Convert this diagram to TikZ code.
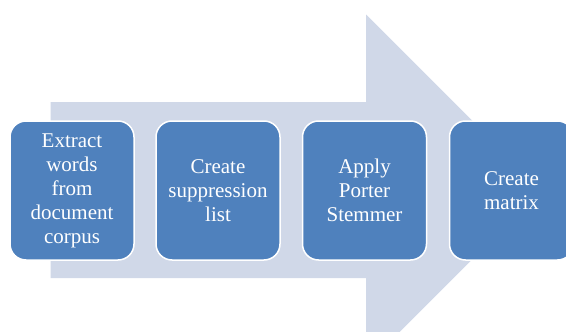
\documentclass[tikz,border=0pt]{standalone}
\usepackage{fontspec}
\setmainfont{Liberation Serif}
\definecolor{boxblue}{HTML}{4F81BD}
\definecolor{arrowgray}{HTML}{D0D8E8}
\begin{document}
\begin{tikzpicture}[x=1pt,y=-1pt,
  stepbox/.style={draw=white, line width=1.5pt, fill=boxblue, rounded corners=16pt,
    minimum width=124pt, minimum height=139pt, text=white, align=center,
    font=\fontsize{21}{24}\selectfont, inner sep=0pt, anchor=center}]
\useasboundingbox (0,0) rectangle (566,332);
\clip (0,0) rectangle (566,332);
\fill[arrowgray] (50.5,102) -- (366,102) -- (366,14.5) -- (541.5,190) -- (366,365.5) -- (366,278) -- (50.5,278) -- cycle;
\node[stepbox] (s1) at (72,190.5) {Extract\\words\\from\\document\\corpus};
\node[stepbox] (s2) at (218,190.5) {Create\\suppression\\list};
\node[stepbox] (s3) at (364.5,190.5) {Apply\\Porter\\Stemmer};
\node[stepbox] (s4) at (511.5,190.5) {Create\\matrix};
\end{tikzpicture}
\end{document}
